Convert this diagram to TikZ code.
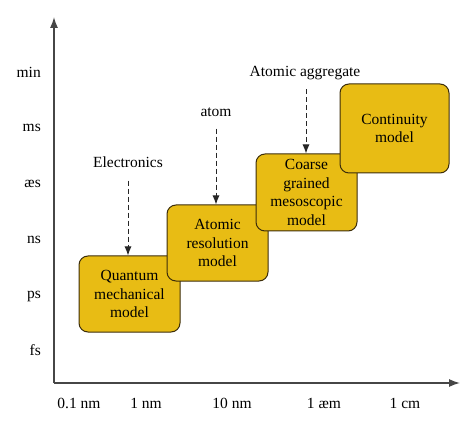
\documentclass[tikz,border=0pt]{standalone}
\usepackage{fontspec}
\setmainfont{Liberation Serif}
\usetikzlibrary{arrows.meta}
\definecolor{boxfill}{RGB}{232,188,20}
\definecolor{boxline}{RGB}{60,45,10}
\definecolor{axisgray}{RGB}{70,70,70}
\tikzset{
  model/.style={draw=boxline, line width=1pt, fill=boxfill, rounded corners=9pt,
    align=center, inner sep=1pt, font=\fontsize{15.5}{18.5}\selectfont},
  lbl/.style={font=\fontsize{15.5}{18.5}\selectfont, inner sep=2pt},
  axis/.style={draw=axisgray, line width=1.3pt, -{Latex[length=11pt,width=8pt]}},
  hint/.style={draw=black!85, line width=1pt, dashed, dash pattern=on 5pt off 3pt,
    -{Latex[length=9pt,width=7pt]}}
}
\begin{document}
\begin{tikzpicture}[x=1pt,y=-1pt]
\useasboundingbox (0,0) rectangle (474,422);
% axes
\coordinate (o) at (54,383);
\coordinate (ytop) at (54,17);
\coordinate (xend) at (460,383);
\draw[axis] (o) -- (ytop);
\draw[axis] (o) -- (xend);
% y labels
\node[lbl, anchor=east] (tmin) at (43,72) {min};
\node[lbl, anchor=east] (tms) at (43,128) {ms};
\node[lbl, anchor=east] (tus) at (43,184) {æs};
\node[lbl, anchor=east] (tns) at (43,240) {ns};
\node[lbl, anchor=east] (tps) at (43,296) {ps};
\node[lbl, anchor=east] (tfs) at (43,350) {fs};
% x labels
\node[lbl] (x1) at (79,403) {0.1 nm};
\node[lbl] (x2) at (146,403) {1 nm};
\node[lbl] (x3) at (232,403) {10 nm};
\node[lbl] (x4) at (324,403) {1 æm};
\node[lbl] (x5) at (405,403) {1 cm};
% boxes
\node[model, minimum width=101pt, minimum height=76pt] (qm) at (129.5,294) {Quantum\\mechanical\\model};
\node[model, minimum width=101pt, minimum height=76pt] (ar) at (217.5,243) {Atomic\\resolution\\model};
\node[model, minimum width=101pt, minimum height=77pt] (cg) at (306.5,192.5) {Coarse\\grained\\mesoscopic\\model};
\node[model, minimum width=109pt, minimum height=89pt] (cm) at (394.5,128.5) {Continuity\\model};
% labels with arrows
\node[lbl] (el) at (128,162) {Electronics};
\node[lbl] (at) at (216,112) {atom};
\node[lbl] (ag) at (305,73) {Atomic aggregate};
\draw[hint] ([yshift=-11pt]el.south -| qm.north) ++(-1.5,0) coordinate (e1) -- (e1 |- qm.north);
\draw[hint] ([yshift=-10pt]at.south) coordinate (a1) -- (a1 |- ar.north);
\draw[hint] ([yshift=-7pt]ag.south) ++(1,0) coordinate (g1) -- (g1 |- cg.north);
\end{tikzpicture}
\end{document}
